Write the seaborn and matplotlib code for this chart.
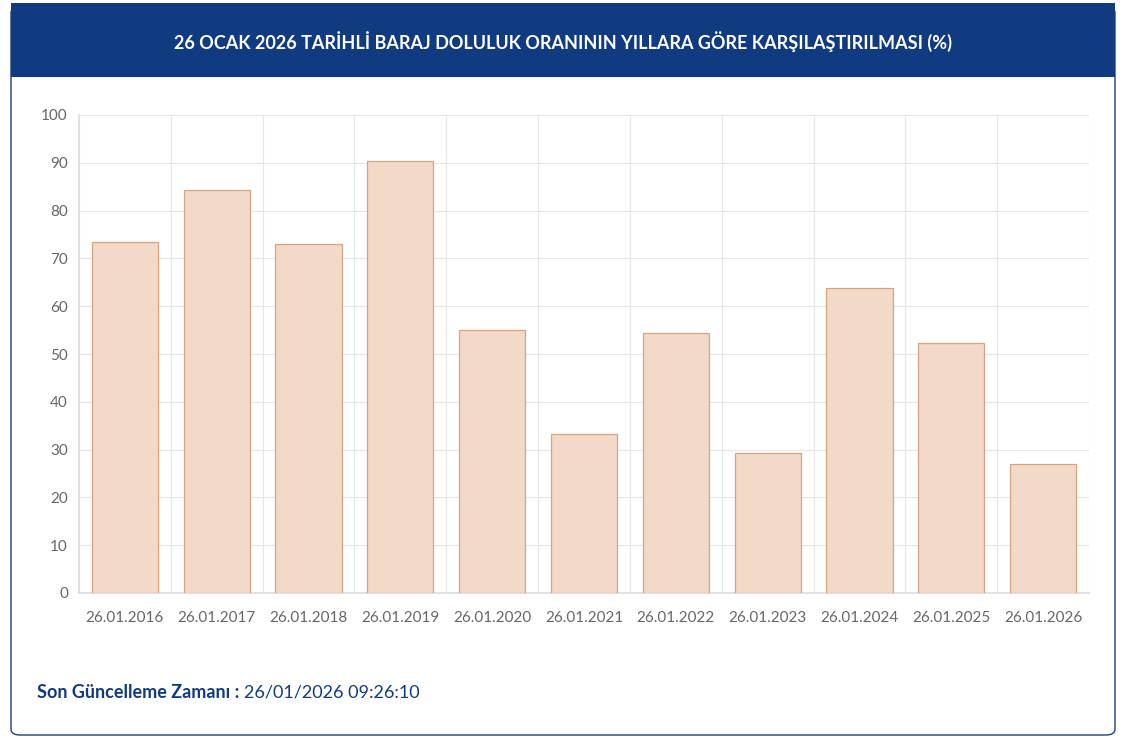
import matplotlib
matplotlib.use("Agg")
import matplotlib.pyplot as plt
from matplotlib.patches import FancyBboxPatch, Rectangle
import seaborn as sns
import numpy as np
import pandas as pd

dates = ["26.01.2016","26.01.2017","26.01.2018","26.01.2019","26.01.2020","26.01.2021",
         "26.01.2022","26.01.2023","26.01.2024","26.01.2025","26.01.2026"]
values = [73.4, 84.3, 73.0, 90.4, 55.0, 33.3, 54.4, 29.3, 63.8, 52.3, 27.0]
title = "26 OCAK 2026 TARİHLİ BARAJ DOLULUK ORANININ YILLARA GÖRE KARŞILAŞTIRILMASI (%)"

sns.set_theme(style="white")
plt.rcParams['font.family'] = ['Lato', 'DejaVu Sans']

W, H = 1126, 742
fig = plt.figure(figsize=(W/100, H/100), dpi=100)
fig.patch.set_facecolor("white")

card = FancyBboxPatch((11/W, 7/H), (1115-11)/W, (739-7-4)/H,
                      boxstyle="round,pad=0,rounding_size=0.008",
                      transform=fig.transFigure, facecolor="none",
                      edgecolor="#1f3f7a", linewidth=1.0, zorder=-1)
fig.patches.append(card)
hdr = Rectangle((11/W, (742-77)/H), (1115-11)/W, 74/H, transform=fig.transFigure,
                facecolor="#113b80", edgecolor="none", zorder=-1)
fig.patches.append(hdr)
fig.text(563/W, (742-42)/H, title, ha="center", va="center", color="white",
         fontsize=13, fontweight="bold")

ax = fig.add_axes([79/W, (742-593)/H, 1010/W, 478/H])
ax.set_zorder(5)
df = pd.DataFrame({"date": dates, "value": values})
sns.barplot(data=df, x="date", y="value", ax=ax, color="#f3d9c7", width=0.72,
            edgecolor="#d8a381", linewidth=0.9, saturation=1, zorder=3)
ax.set_ylim(0, 100)
ax.set_xlim(-0.5, len(dates)-0.5)
ax.set_yticks(np.arange(0, 101, 10))
ax.set_xlabel(""); ax.set_ylabel("")
ax.set_xticks(np.arange(-0.5, len(dates)), minor=True)
ax.grid(True, axis="y", color="#e6e6e6", linewidth=0.8, zorder=0)
ax.grid(True, axis="x", which="minor", color="#e6e6e6", linewidth=0.8, zorder=0)
ax.grid(False, axis="x", which="major")
ax.tick_params(axis="both", labelsize=11, colors="#666666", length=0, pad=8)
ax.tick_params(axis="x", pad=13)
ax.tick_params(axis="x", which="minor", length=0)
for s in ["top", "right"]:
    ax.spines[s].set_visible(False)
for s in ["left", "bottom"]:
    ax.spines[s].set_color("#dddddd")
ax.set_axisbelow(True)

t1 = fig.text(37/W, (742-693)/H, "Son Güncelleme Zamanı :", ha="left", va="center",
              color="#113b80", fontsize=13, fontweight="bold")
fig.canvas.draw()
bb = t1.get_window_extent()
fig.text((bb.x1+5)/W, (742-693)/H, "26/01/2026 09:26:10", ha="left", va="center",
         color="#113b80", fontsize=13)

fig.savefig("out.png", dpi=100)
